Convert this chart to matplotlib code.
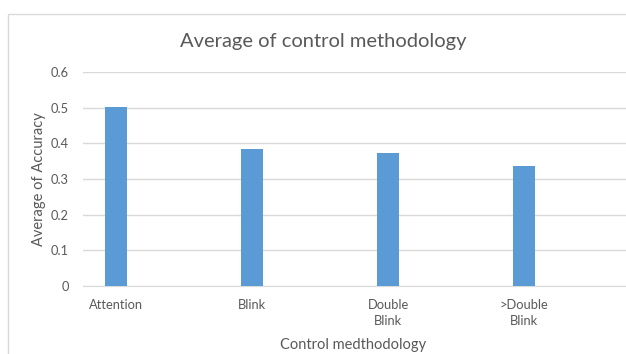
import matplotlib
matplotlib.use("Agg")
import matplotlib.pyplot as plt
from matplotlib.patches import Rectangle

# data
categories = ["Attention", "Blink", "Double\nBlink", ">Double\nBlink"]
accuracy = [0.501, 0.385, 0.373, 0.336]
yticks = [0, 0.1, 0.2, 0.3, 0.4, 0.5, 0.6]

plt.rcParams['font.family'] = ['Lato', 'DejaVu Sans']
txt = '#595959'

fig = plt.figure(figsize=(6.26, 3.54), dpi=100)
fig.patch.set_facecolor('white')

# chart frame (cut off at right and bottom like the screenshot)
fig.patches.append(Rectangle((8/626, -0.1), 1.0, (354-14)/354 + 0.1,
                             transform=fig.transFigure, fill=False,
                             edgecolor='#D9D9D9', lw=1))

ax = fig.add_axes([83/626, (354-286)/354, (626-83)/626, (286-72)/354])
x = range(len(categories))
ax.bar(x, accuracy, width=0.16, color='#5B9BD5', zorder=3)

ax.set_ylim(0, 0.6)
ax.set_yticks(yticks)
ax.set_yticklabels([f"{v:g}" for v in yticks])
ax.set_xlim(-0.245, 3.75)
ax.set_xticks(list(x))
ax.set_xticklabels(categories, linespacing=1.35, va='top')

ax.grid(axis='y', color='#D9D9D9', lw=1, zorder=0)
for s in ['top', 'right', 'left']:
    ax.spines[s].set_visible(False)
ax.spines['bottom'].set_color('#D9D9D9')
ax.tick_params(length=0, colors=txt, labelsize=9.3)
ax.tick_params(axis='y', pad=10)
ax.tick_params(axis='x', pad=9.5)

ax.set_ylabel("Average of Accuracy", color=txt, fontsize=10.5)
ax.yaxis.set_label_coords(-(83-46)/543, (286-179)/214)
ax.set_xlabel("Control medthodology", color=txt, fontsize=10.5)
ax.xaxis.label.set_va('center')
ax.xaxis.set_label_coords((353-83)/543, -(345-286)/214)
fig.text(323/626, 1 - 41/354, "Average of control methodology", color=txt,
         fontsize=14.5, ha='center', va='center')

fig.savefig("out.png", dpi=100, facecolor='white')
